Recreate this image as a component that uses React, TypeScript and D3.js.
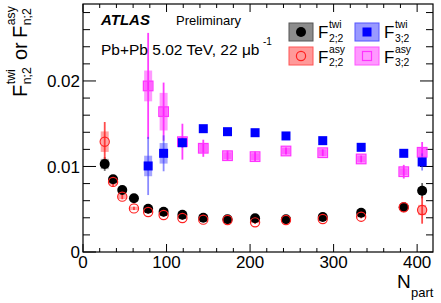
import React from "react";
import * as d3 from "d3";

const npart = [26, 36, 47, 61, 78, 96.5, 119, 144, 173, 206, 243, 287, 333, 384, 406];
const npartF3 = [78, 96.5, 119, 144, 173, 206, 243, 287, 333, 384, 406];

const f2twi = [0.01029, 0.0085, 0.00725, 0.00628, 0.00506, 0.00471, 0.00436, 0.0040, 0.00382, 0.00394, 0.00382, 0.0041, 0.0046, 0.00523, 0.00717];
const f2twiStat = [0.0008, 0.0004, 0.0003, 0.0002, 0.0002, 0.0002, 0.0002, 0.0002, 0.0002, 0.0002, 0.0002, 0.0002, 0.0002, 0.0003, 0.0009];
const f2twiSys = [0.0006, 0.0003, 0.0002, 0.0001, 0.0001, 0.0001, 0.0001, 0.0001, 0.0001, 0.0001, 0.0001, 0.0001, 0.0001, 0.0002, 0.0004];

const f2asy = [0.0129, 0.0082, 0.00647, 0.0051, 0.00468, 0.00433, 0.00398, 0.00378, 0.00374, 0.00347, 0.00374, 0.00386, 0.00413, 0.00523, 0.00491];
const f2asyStat = [0.0023, 0.0006, 0.0003, 0.0002, 0.0002, 0.0002, 0.0002, 0.0002, 0.0002, 0.0002, 0.0002, 0.0002, 0.0002, 0.0003, 0.0016];
const f2asySys = [0.0012, 0.0004, 0.0003, 0.0002, 0.0001, 0.0001, 0.0001, 0.0001, 0.0001, 0.0001, 0.0001, 0.0001, 0.0001, 0.0002, 0.0006];

const f3twi = [0.01006, 0.01154, 0.01278, 0.01442, 0.01407, 0.01395, 0.01357, 0.01302, 0.01224, 0.01154, 0.01053];
const f3twiStat = [0.0034, 0.0021, 0.0006, 0.0004, 0.0003, 0.0003, 0.0003, 0.0003, 0.0003, 0.0003, 0.0010];
const f3twiSys = [0.0012, 0.0012, 0.0004, 0.0003, 0.0002, 0.0002, 0.0002, 0.0002, 0.0002, 0.0002, 0.0004];

const f3asy = [0.01942, 0.01641, 0.0129, 0.01213, 0.01126, 0.01115, 0.01181, 0.01161, 0.01088, 0.00939, 0.01166];
const f3asyStat = [0.0062, 0.0034, 0.0021, 0.0010, 0.0006, 0.0006, 0.0004, 0.0004, 0.0004, 0.0008, 0.0012];
const f3asySys = [0.0018, 0.0022, 0.0006, 0.0005, 0.0004, 0.0004, 0.0004, 0.0004, 0.0004, 0.0004, 0.0006];

const xTickValues = [0, 100, 200, 300, 400];
const yTickValues = [0, 0.01, 0.02];
const yTickLabels = ["0", "0.01", "0.02"];

const W = 441;
const H = 303;
const L = 83, R = 433, T = 4, B = 252;
const FONT = "'Liberation Sans', Arial, Helvetica, sans-serif";

const x = d3.scaleLinear().domain([0, 419]).range([L, R]);
const y = d3.scaleLinear().domain([0, 0.029]).range([B, T]);

type Series = {
  xs: number[];
  vals: number[];
  stat: number[];
  sys: number[];
  boxFill: string;
  lineColor: string;
};

const s2twi: Series = { xs: npart, vals: f2twi, stat: f2twiStat, sys: f2twiSys, boxFill: "rgba(0,0,0,0.35)", lineColor: "rgba(0,0,0,0.6)" };
const s2asy: Series = { xs: npart, vals: f2asy, stat: f2asyStat, sys: f2asySys, boxFill: "rgba(255,0,0,0.35)", lineColor: "rgba(255,30,30,0.8)" };
const s3twi: Series = { xs: npartF3, vals: f3twi, stat: f3twiStat, sys: f3twiSys, boxFill: "rgba(0,0,255,0.35)", lineColor: "rgba(60,60,255,0.6)" };
const s3asy: Series = { xs: npartF3, vals: f3asy, stat: f3asyStat, sys: f3asySys, boxFill: "rgba(255,0,255,0.4)", lineColor: "rgba(255,40,255,0.9)" };

function Errors({ s }: { s: Series }) {
  return (
    <g>
      {s.vals.map((v, i) => (
        <rect key={"b" + i} x={x(s.xs[i]) - 4} width={8} y={y(v + s.sys[i])} height={y(v - s.sys[i]) - y(v + s.sys[i])} fill={s.boxFill} />
      ))}
      {s.vals.map((v, i) => (
        <line key={"l" + i} x1={x(s.xs[i])} x2={x(s.xs[i])} y1={y(v + s.stat[i])} y2={y(v - s.stat[i])} stroke={s.lineColor} strokeWidth={1.8} />
      ))}
    </g>
  );
}

function FSym({ px, py, size, sup, sub }: { px: number; py: number; size: number; sup: string; sub: string }) {
  const small = size * 0.61;
  const dx = size * 0.64;
  return (
    <g fontFamily={FONT} fill="#000">
      <text x={px} y={py} fontSize={size}>F</text>
      <text x={px + dx} y={py - size * 0.58} fontSize={small}>{sup}</text>
      <text x={px + dx} y={py + size * 0.22} fontSize={small}>{sub}</text>
    </g>
  );
}

export default function App() {
  const xMinor = d3.range(0, 420, 20).filter((v) => v % 100 !== 0);
  const yMinor = d3.range(0, 0.029, 0.002).filter((v) => Math.abs(v / 0.01 - Math.round(v / 0.01)) > 1e-6);

  return (
    <svg width={W} height={H} style={{ position: "absolute", left: 0, top: 0, background: "#fff" }}>
      <rect x={0} y={0} width={W} height={H} fill="#fff" />
      <rect x={L} y={T} width={R - L} height={B - T} fill="none" stroke="#000" strokeWidth={1.2} />
      {xTickValues.map((v) => (
        <g key={"xt" + v}>
          <line x1={x(v)} x2={x(v)} y1={B} y2={B - 8} stroke="#000" />
          <line x1={x(v)} x2={x(v)} y1={T} y2={T + 8} stroke="#000" />
          <text x={x(v)} y={268} fontSize={17} fontFamily={FONT} textAnchor="middle">{v}</text>
        </g>
      ))}
      {xMinor.map((v) => (
        <g key={"xm" + v}>
          <line x1={x(v)} x2={x(v)} y1={B} y2={B - 4} stroke="#000" />
          <line x1={x(v)} x2={x(v)} y1={T} y2={T + 4} stroke="#000" />
        </g>
      ))}
      {yTickValues.map((v, i) => (
        <g key={"yt" + v}>
          <line x1={L} x2={L + 13} y1={y(v)} y2={y(v)} stroke="#000" />
          <line x1={R} x2={R - 13} y1={y(v)} y2={y(v)} stroke="#000" />
          <text x={80} y={y(v)} dy="0.36em" fontSize={17} fontFamily={FONT} textAnchor="end">{yTickLabels[i]}</text>
        </g>
      ))}
      {yMinor.map((v) => (
        <g key={"ym" + v}>
          <line x1={L} x2={L + 7} y1={y(v)} y2={y(v)} stroke="#000" />
          <line x1={R} x2={R - 7} y1={y(v)} y2={y(v)} stroke="#000" />
        </g>
      ))}

      <Errors s={s3asy} />
      <Errors s={s3twi} />
      <Errors s={s2twi} />
      <Errors s={s2asy} />
      {s3asy.vals.map((v, i) => (
        <rect key={"pm" + i} x={x(s3asy.xs[i]) - 4.8} y={y(v) - 4.8} width={9.6} height={9.6} fill="rgba(255,0,255,0.35)" stroke="#ff33ff" strokeWidth={1.2} />
      ))}
      {s3twi.vals.map((v, i) => (
        <rect key={"bm" + i} x={x(s3twi.xs[i]) - 4.5} y={y(v) - 4.5} width={9} height={9} fill="#0000ff" />
      ))}
      {s2twi.vals.map((v, i) => (
        <circle key={"km" + i} cx={x(s2twi.xs[i])} cy={y(v)} r={5} fill="#000" />
      ))}
      {s2asy.vals.map((v, i) => (
        <circle key={"rm" + i} cx={x(s2asy.xs[i])} cy={y(v)} r={4.6} fill="none" stroke="#ff2020" strokeWidth={1.2} />
      ))}

      <text x={101} y={25} fontSize={15} fontWeight="bold" fontStyle="italic" fontFamily={FONT}>ATLAS</text>
      <text x={176} y={25} fontSize={13} fontFamily={FONT}>Preliminary</text>
      <text x={101} y={55} fontSize={15.5} fontFamily={FONT}>Pb+Pb 5.02 TeV, 22 μb</text>
      <text x={263} y={45} fontSize={10} fontFamily={FONT}>-1</text>

      <rect x={289} y={23} width={24} height={18} fill="rgba(0,0,0,0.45)" stroke="#555" strokeWidth={1} />
      <circle cx={301} cy={32} r={5} fill="#000" />
      <FSym px={318} py={38} size={17} sup="twi" sub="2;2" />
      <rect x={289} y={47} width={24} height={18} fill="rgba(255,0,0,0.4)" stroke="#ff5555" strokeWidth={1} />
      <circle cx={301} cy={56} r={4.6} fill="none" stroke="#ff2020" strokeWidth={1.2} />
      <FSym px={318} py={62.5} size={17} sup="asy" sub="2;2" />
      <rect x={355} y={23} width={24} height={18} fill="rgba(0,0,255,0.4)" stroke="#5555ff" strokeWidth={1} />
      <rect x={362.5} y={27.5} width={9} height={9} fill="#0000ff" />
      <FSym px={384} py={38} size={17} sup="twi" sub="3;2" />
      <rect x={355} y={47} width={24} height={18} fill="rgba(255,0,255,0.4)" stroke="#ff55ff" strokeWidth={1} />
      <rect x={362.5} y={51.5} width={9} height={9} fill="none" stroke="#ff33ff" strokeWidth={1.2} />
      <FSym px={384} py={62.5} size={17} sup="asy" sub="3;2" />

      <g fontFamily={FONT} fontSize={19}>
        <text x={397} y={288}>N</text>
        <text x={411} y={297} fontSize={13}>part</text>
      </g>
      <g transform="translate(27,50) rotate(-90)">
        <FSym px={-47} py={0} size={20} sup="twi" sub="n;2" />
        <text x={-10} y={0} fontSize={20} fontFamily={FONT}>or</text>
        <FSym px={12} py={0} size={20} sup="asy" sub="n;2" />
      </g>
    </svg>
  );
}
